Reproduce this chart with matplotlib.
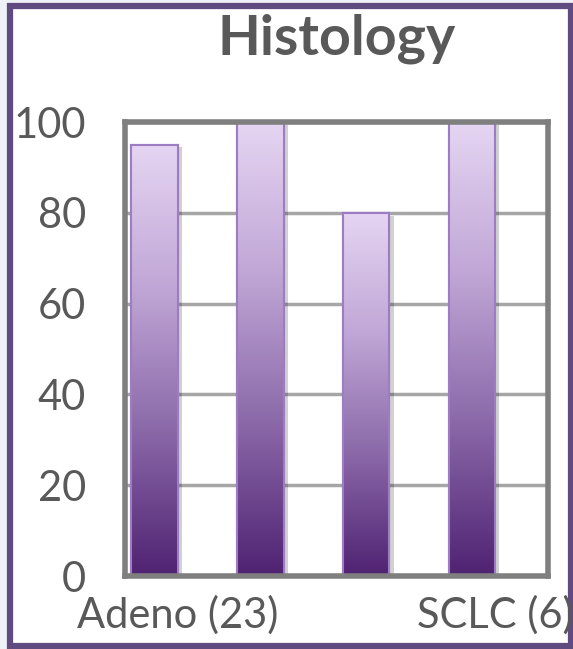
import numpy as np
import matplotlib.pyplot as plt
from matplotlib.colors import LinearSegmentedColormap
from matplotlib.patches import Rectangle
import matplotlib.patheffects as pe

# Histology response rates (%)
categories = ["Adeno (23)", "", "", "SCLC (6)"]
values = [95, 100, 80, 100]
yticks = [0, 20, 40, 60, 80, 100]

plt.rcParams['font.family'] = ['Lato', 'DejaVu Sans']

fig = plt.figure(figsize=(5.73, 6.49), dpi=100)
fig.patch.set_facecolor('#eef1f5')

# white panel with purple frame
frame = Rectangle((10 / 573, 3 / 649), 561 / 573, 640 / 649, transform=fig.transFigure,
                  facecolor='white', edgecolor='#5f4b7f', linewidth=4.5, zorder=-10)
fig.patches.append(frame)

ax = fig.add_axes([125 / 573, 73 / 649, 423 / 573, 454 / 649])
ax.set_facecolor('white')

cmap = LinearSegmentedColormap.from_list('purp', ['#4f2272', '#8a68a8', '#c0a6d6', '#e5d5f2'])
grad = np.linspace(0, 1, 256).reshape(-1, 1)

x = np.arange(len(values))
width = 0.44
offset = -0.22  # bars sit left of the category centre
bars = ax.bar(x + offset, values, width=width, facecolor='white', edgecolor='#9d7cc4',
              linewidth=1.5, zorder=3)
shadow = [pe.SimplePatchShadow(offset=(3, -2), shadow_rgbFace='#000000', alpha=0.18), pe.Normal()]
for b, v in zip(bars, values):
    x0 = b.get_x()
    b.set_path_effects(shadow)
    im = ax.imshow(grad, cmap=cmap, origin='lower', aspect='auto',
                   extent=[x0, x0 + width, 0, v], zorder=3.5)
    im.set_clip_path(b)
    # redraw the outline above the gradient
    ax.bar(x0 + width / 2, v, width=width, facecolor='none', edgecolor='#9d7cc4',
           linewidth=1.5, zorder=4)

ax.set_xlim(-0.5, len(values) - 0.5)
ax.set_ylim(0, 100)
ax.set_yticks(yticks)
ax.set_xticks(x)
ax.set_xticklabels(categories)
ax.tick_params(axis='both', length=0, labelsize=30, labelcolor='#595959')
ax.tick_params(axis='y', pad=28)
ax.tick_params(axis='x', pad=14)
ax.grid(axis='y', color='#a6a6a6', linewidth=2.5, zorder=1)
ax.set_axisbelow(True)
for s in ax.spines.values():
    s.set_color('#7f7f7f')
    s.set_linewidth(4)
    s.set_zorder(5)

fig.text(0.587, 0.94, 'Histology', ha='center', va='center', fontsize=40,
         fontweight='bold', color='#595959')

fig.savefig('out.png', dpi=100)
